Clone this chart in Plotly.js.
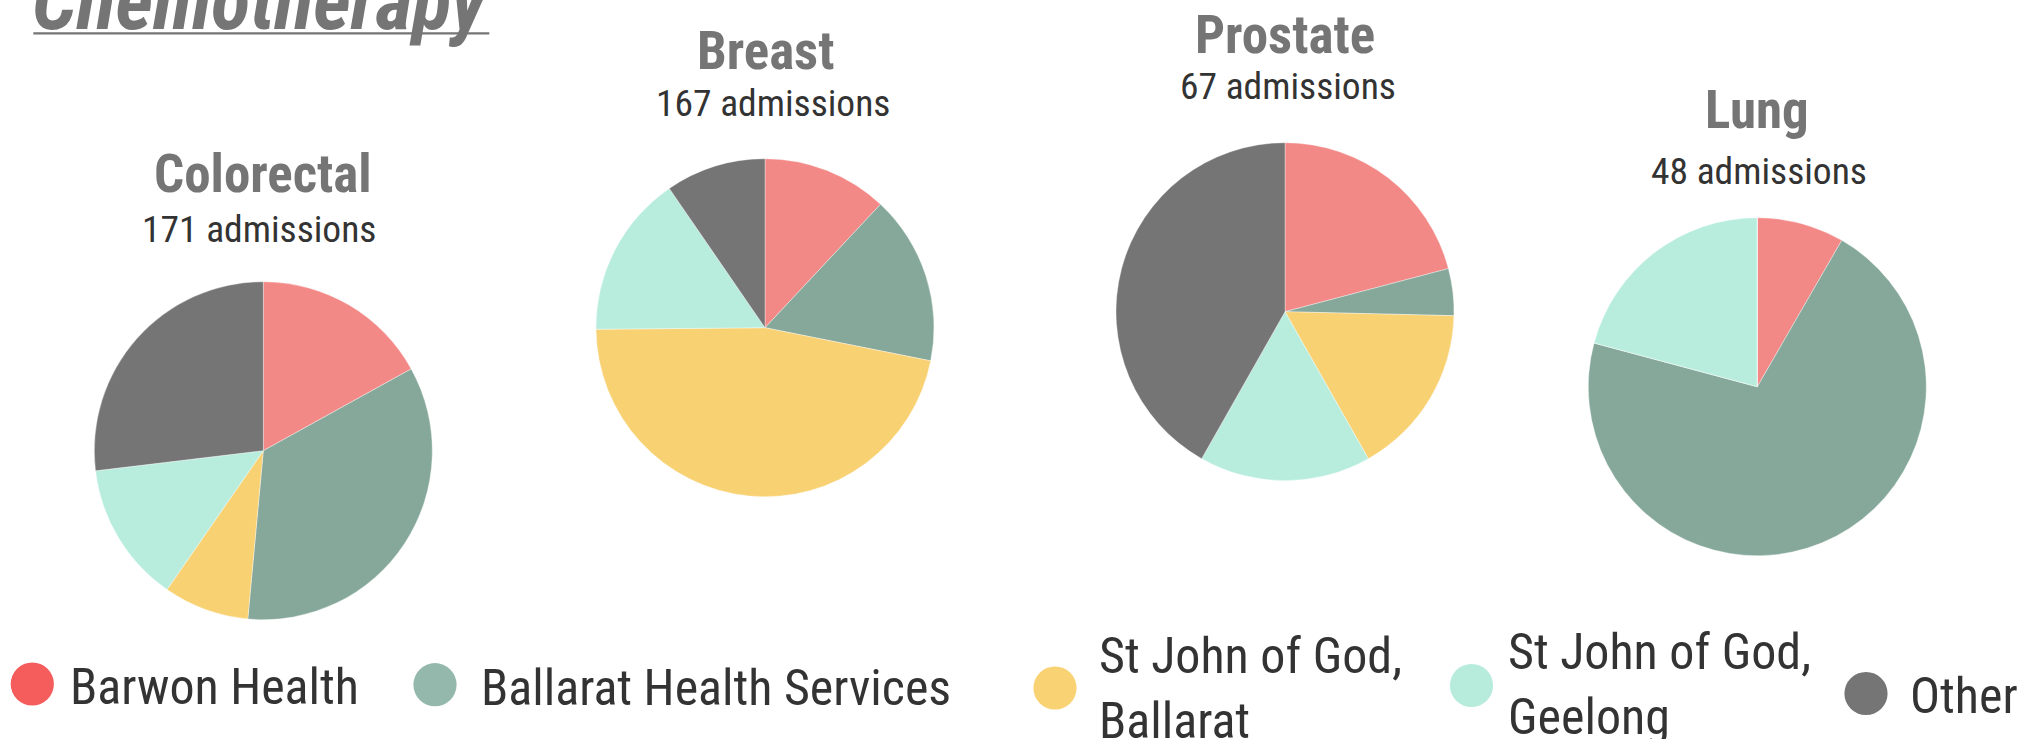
<!DOCTYPE html>
<html><head><meta charset="utf-8">
<script src="https://cdn.plot.ly/plotly-3.0.1.min.js"></script>
<style>html,body{margin:0;padding:0;background:#fff;overflow:hidden}#chart{width:2043px;height:739px}</style>
</head><body><div id="chart"></div>
<script>
// ---- data ----
const chartTitle = 'Chemotherapy';
const cancers = ['Colorectal', 'Breast', 'Prostate', 'Lung'];
const admissions = [171, 167, 67, 48];
const hospitals = ['Barwon Health', 'Ballarat Health Services', 'St John of God, Ballarat', 'St John of God, Geelong', 'Other'];
const legendLabels = ['Barwon Health', 'Ballarat Health Services', 'St John of God,<br>Ballarat', 'St John of God,<br>Geelong', 'Other'];
const colorectal = [29, 59, 14, 23, 46];
const breast = [20, 27, 78, 26, 16];
const prostate = [14, 3, 11, 11, 28];
const lung = [4, 34, 0, 10, 0];
const seriesValues = [colorectal, breast, prostate, lung];

// ---- styles / layout ----
const sliceColors = ['#F38987', '#86A89B', '#F8D173', '#B8EDDE', '#757575'];
const legendColors = ['#F55D5D', '#94B9AC', '#F9D273', '#B7ECDD', '#757575'];
const W = 2043, H = 739, R = 169;
const FONT = "'Roboto Condensed', 'DejaVu Sans Condensed', Roboto, sans-serif";
const pieCenters = [[263.3, 450.7], [765, 327.7], [1285, 311.7], [1757.3, 386.7]];
const titleBaselines = [192.7, 69.3, 53.3, 128.3];
const subCentersX = [259, 773, 1288, 1759];
const subCentersY = [229.3, 102.6, 86, 171];
const TF = 53, SF = 37.5, LF = 50, MF = 81;
const legendCircle = [[32.3, 684], [435, 684.7], [1055, 688], [1471.5, 685.5], [1866, 693.5]];
const legendTextX = [68, 478.5, 1096.5, 1506, 1908];
const legendTextY = [687, 687.7, 688.7, 684.9, 696];

const px = x => x / W;
const py = y => 1 - y / H;

const traces = seriesValues.map((vals, i) => {
  const [cx, cy] = pieCenters[i];
  return {
    type: 'pie', name: cancers[i], labels: hospitals, values: vals,
    sort: false, direction: 'clockwise', rotation: 0,
    textinfo: 'none', hoverinfo: 'label+value+percent', showlegend: false,
    marker: {colors: sliceColors, line: {color: 'rgba(255,255,255,0.6)', width: 0.6}},
    domain: {x: [px(cx - R), px(cx + R)], y: [py(cy + R), py(cy - R)]}
  };
});

const annotations = [];
const shapes = [];
// main title (top cut off, as in the original)
annotations.push({text: '<b><i>' + chartTitle + '</i></b>', xref: 'paper', yref: 'paper',
  x: px(30), y: py(29.3 - 0.345 * MF), xanchor: 'left', yanchor: 'middle', showarrow: false,
  font: {family: FONT, size: MF, color: '#757575'}});
shapes.push({type: 'line', xref: 'paper', yref: 'paper', x0: px(33.3), x1: px(489.3), y0: py(33.3), y1: py(33.3),
  line: {color: '#757575', width: 2.3}});

cancers.forEach((c, i) => {
  const [cx] = pieCenters[i];
  annotations.push({text: '<b>' + c + '</b>', xref: 'paper', yref: 'paper', x: px(cx), y: py(titleBaselines[i] - 0.345 * TF),
    xanchor: 'center', yanchor: 'middle', showarrow: false, font: {family: FONT, size: TF, color: '#757575'}});
  annotations.push({text: admissions[i] + ' admissions', xref: 'paper', yref: 'paper', x: px(subCentersX[i]), y: py(subCentersY[i]),
    xanchor: 'center', yanchor: 'middle', showarrow: false, font: {family: FONT, size: SF, color: '#333333'}});
});

legendLabels.forEach((lab, i) => {
  const [lx, ly] = legendCircle[i];
  shapes.push({type: 'circle', xref: 'paper', yref: 'paper', x0: px(lx - 21.6), x1: px(lx + 21.6), y0: py(ly + 21.6), y1: py(ly - 21.6),
    fillcolor: legendColors[i], line: {width: 0}});
  annotations.push({text: lab, xref: 'paper', yref: 'paper', x: px(legendTextX[i]), y: py(legendTextY[i]),
    xanchor: 'left', yanchor: 'middle', align: 'left', showarrow: false, font: {family: FONT, size: LF, color: '#333333'}});
});

Plotly.newPlot('chart', traces, {
  width: W, height: H, margin: {l: 0, r: 0, t: 0, b: 0},
  paper_bgcolor: '#ffffff', plot_bgcolor: '#ffffff',
  showlegend: false, annotations, shapes
}, {displayModeBar: false, staticPlot: true});
</script>
</body></html>
